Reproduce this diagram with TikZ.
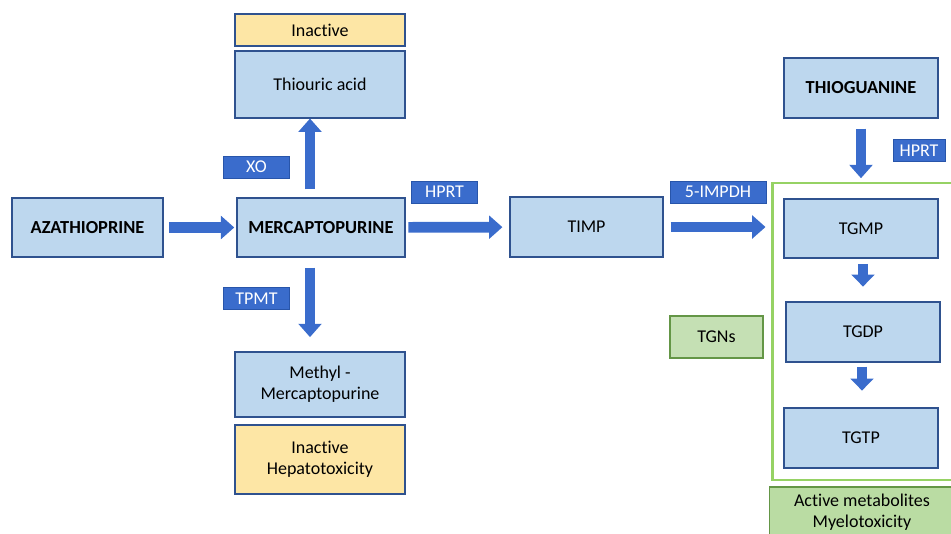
\documentclass[tikz,border=0pt]{standalone}
\usepackage{fontspec}
\setmainfont{Carlito}[Ligatures=NoCommon]
\usetikzlibrary{arrows.meta}
\definecolor{boxfill}{RGB}{189,215,238}
\definecolor{boxline}{RGB}{47,82,143}
\definecolor{arrowblue}{RGB}{58,108,204}
\definecolor{labline}{RGB}{40,85,170}
\definecolor{yelfill}{RGB}{253,230,165}
\definecolor{grnfill}{RGB}{197,224,180}
\definecolor{actfill}{RGB}{186,220,163}
\definecolor{grnline}{RGB}{100,150,70}
\definecolor{grpline}{RGB}{150,210,100}
\tikzset{
  base/.style={rectangle, inner sep=0pt, align=center, font=\fontsize{13.5}{16}\selectfont, text=black},
  boldtext/.style={font=\fontsize{13.8}{16}\selectfont\bfseries},
  bluebox/.style={base, fill=boxfill, draw=boxline, line width=1.1pt},
  yelbox/.style={base, fill=yelfill, draw=boxline, line width=1.1pt},
  grnbox/.style={base, fill=grnfill, draw=grnline, line width=1.1pt},
  enzyme/.style={base, fill=arrowblue, draw=labline, line width=0.6pt, text=white},
  bigarrow/.style={draw=arrowblue, line width=8pt, -{Triangle[width=17pt,length=10pt]}, arrowblue},
  smallarrow/.style={draw=arrowblue, line width=8pt, -{Triangle[width=17pt,length=9pt]}, arrowblue}
}
\begin{document}
\begin{tikzpicture}[x=0.75pt,y=-0.75pt]
\useasboundingbox (0,0) rectangle (951,533);
\clip (0,0) rectangle (951,533);
% left column
\node[yelbox, minimum width=127.5pt, minimum height=24pt] (inact1) at (320,30) {Inactive};
\node[bluebox, minimum width=127.5pt, minimum height=50pt] (thio) at (320,84.5) {Thiouric acid};
\node[bluebox, boldtext, minimum width=113pt, minimum height=44pt] (aza) at (87.5,227.5) {AZATHIOPRINE};
\node[bluebox, boldtext, minimum width=126pt, minimum height=44pt] (merc) at (321,227.5) {MERCAPTOPURINE};
\node[bluebox, minimum width=127.5pt, minimum height=49pt] (methyl) at (320,384.5) {Methyl -\\Mercaptopurine};
\node[yelbox, minimum width=127.5pt, minimum height=52pt] (inact2) at (320,459.5) {Inactive\\Hepatotoxicity};
% enzymes
\node[enzyme, minimum width=50pt, minimum height=16.5pt] (xo) at (256.5,167) {XO};
\node[enzyme, minimum width=50pt, minimum height=16.5pt] (hprt1) at (444.5,192) {HPRT};
\node[enzyme, minimum width=50pt, minimum height=17pt] (tpmt) at (256.5,298.5) {TPMT};
\node[enzyme, minimum width=72pt, minimum height=16.5pt] (imp) at (718,192) {5-IMPDH};
\node[enzyme, minimum width=39pt, minimum height=17pt] (hprt2) at (919,150.5) {HPRT};
% middle
\node[bluebox, minimum width=115pt, minimum height=45pt] (timp) at (586.5,227) {TIMP};
\node[grnbox, minimum width=70pt, minimum height=31.5pt] (tgns) at (716.5,337) {TGNs};
% right column
\node[bluebox, boldtext, minimum width=115.5pt, minimum height=45pt] (thiog) at (861,88) {THIOGUANINE};
\node[draw=grpline, line width=2.2pt, minimum width=145pt, minimum height=222.75pt, inner sep=0pt] (grp) at (869,331.5) {};
\node[bluebox, minimum width=115.5pt, minimum height=44pt] (tgmp) at (861,228.5) {TGMP};
\node[bluebox, minimum width=115.5pt, minimum height=45pt] (tgdp) at (863,332) {TGDP};
\node[bluebox, minimum width=115.5pt, minimum height=45pt] (tgtp) at (861,438) {TGTP};
\node[grnbox, fill=actfill, minimum width=139pt, minimum height=37.5pt] (active) at (862,512) {Active metabolites\\Myelotoxicity};
% arrows
\draw[bigarrow, shorten <=4pt, shorten >=1.5pt] (aza) -- (merc);
\draw[bigarrow, shorten <=2pt, shorten >=5pt] (merc) -- (timp);
\draw[bigarrow, shorten <=5pt, shorten >=4pt] (timp.east) -- (timp.east -| grp.west);
\draw[bigarrow, shorten <=6pt] ([xshift=-8.25pt]merc.north) -- ([xshift=-8.25pt]merc.north |- thio.south);
\draw[bigarrow, shorten <=7.5pt, shorten >=10.5pt] ([xshift=-8.25pt]merc.south) -- ([xshift=-8.25pt]merc.south |- methyl.north);
\draw[bigarrow, shorten <=7.5pt, shorten >=2.5pt] (thiog.south) -- (thiog.south |- grp.north);
\draw[smallarrow, shorten <=4pt, shorten >=11pt] ([xshift=1.5pt]tgmp.south) -- ([xshift=1.5pt]tgmp.south |- tgdp.north);
\draw[smallarrow, shorten <=3pt, shorten >=12.5pt] ([xshift=-0.75pt]tgdp.south) -- ([xshift=-0.75pt]tgdp.south |- tgtp.north);
\end{tikzpicture}
\end{document}
